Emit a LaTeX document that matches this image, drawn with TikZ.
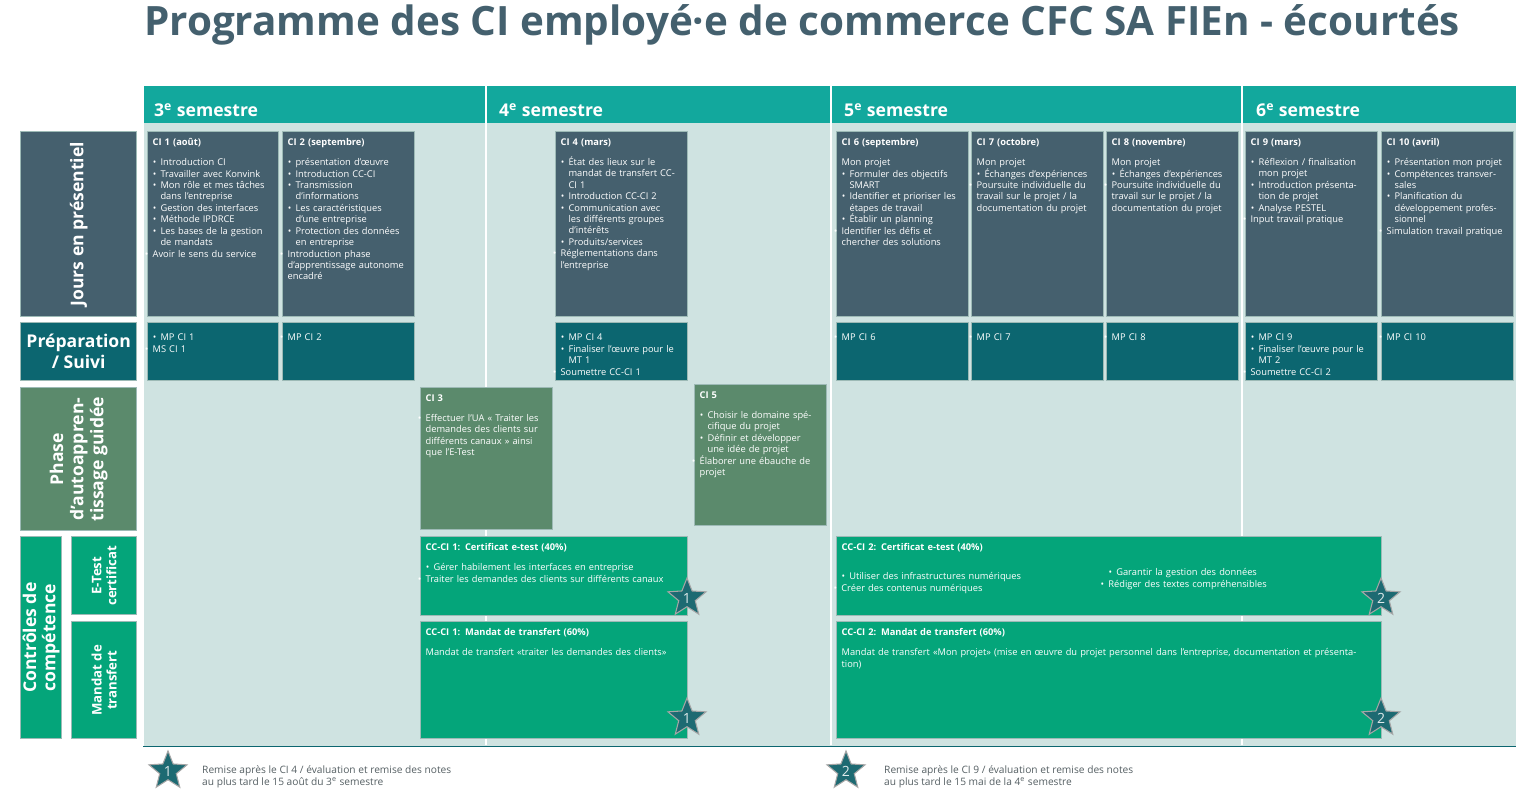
\documentclass[tikz,border=0pt]{standalone}
\usepackage{fontspec}
\setmainfont{Open Sans}
\usepackage{tikz}
\usetikzlibrary{shapes.geometric}

\definecolor{titlecol}{HTML}{44606E}
\definecolor{semcol}{HTML}{12A89D}
\definecolor{panelcol}{HTML}{CFE3E1}
\definecolor{slatecol}{HTML}{45606E}
\definecolor{prepcol}{HTML}{0C6670}
\definecolor{phasecol}{HTML}{5B8A6C}
\definecolor{ccgreen}{HTML}{04A57A}
\definecolor{boxline}{HTML}{9DBAB6}
\definecolor{starcol}{HTML}{1D6A72}
\definecolor{legcol}{HTML}{555F63}

\newcommand\itm{\par\leftskip=0.85em\noindent\llap{\textbullet\hspace{0.45em}}}
\newcommand\pln{\par\leftskip=0pt\noindent}
\newcommand\hd[1]{\textbf{#1}\par\vspace{5pt}}
% box with its text in the top left corner
\newcommand\cibox[7]{%
  \node[box, fill=#6, minimum width=\dimexpr0.02cm*#4\relax, minimum height=\dimexpr0.02cm*#5\relax] (#1) at (#2,#3) {};
  \node[txt, text width=\dimexpr0.02cm*#4-8pt\relax] (#1t) at ([shift={(3pt,-4pt)}]#1.north west) {#7};}

\tikzset{
  box/.style={draw=boxline, line width=0.8pt, anchor=north west, inner sep=0pt},
  txt/.style={anchor=north west, align=left, inner sep=0pt, text=white, font=\fontsize{5.3}{6.5}\selectfont},
  sidebox/.style={box, text=white, font=\bfseries, align=center},
  semtxt/.style={anchor=west, text=white, font=\fontsize{10}{12}\selectfont\bfseries},
  badge/.style={star, star points=5, star point ratio=2.3, fill=starcol, draw=gray!70, line width=0.6pt, minimum size=0.8cm, inner sep=0pt, text=white!85!starcol, font=\fontsize{8}{8}\selectfont}
}

\begin{document}
\begin{tikzpicture}[x=0.02cm, y=-0.02cm]
\useasboundingbox (0,0) rectangle (1530,793);

\node[anchor=west, text=titlecol, font=\fontsize{23}{26}\selectfont\bfseries] (title) at (138,25) {Programme des CI employé·e de commerce CFC SA FIEn - écourtés};

% semester band and panel
\node[box, draw=none, fill=panelcol, minimum width=\dimexpr0.02cm*1372\relax, minimum height=\dimexpr0.02cm*623\relax] (panel) at (143,122) {};
\node[box, draw=none, fill=semcol, minimum width=\dimexpr0.02cm*1372\relax, minimum height=\dimexpr0.02cm*37\relax] (band) at (143,85) {};
\foreach \xs in {486,831,1242}
  \draw[white, line width=1.2pt] (\xs,85) -- (\xs,745);
\node[semtxt] (s3) at (148,110) {3\textsuperscript{e} semestre};
\node[semtxt] (s4) at (493,110) {4\textsuperscript{e} semestre};
\node[semtxt] (s5) at (838,110) {5\textsuperscript{e} semestre};
\node[semtxt] (s6) at (1250,110) {6\textsuperscript{e} semestre};

% row labels
\node[sidebox, fill=slatecol, minimum width=\dimexpr0.02cm*116\relax, minimum height=\dimexpr0.02cm*185\relax] (jours) at (20,131) {};
\node[rotate=90, text=white, font=\fontsize{10}{12}\selectfont\bfseries] at (jours.center) {Jours en présentiel};
\node[sidebox, fill=prepcol, minimum width=\dimexpr0.02cm*116\relax, minimum height=\dimexpr0.02cm*58\relax, font=\fontsize{10}{12}\selectfont\bfseries] (prep) at (20,322) {Préparation\\/ Suivi};
\node[sidebox, fill=phasecol, minimum width=\dimexpr0.02cm*116\relax, minimum height=\dimexpr0.02cm*143\relax] (phase) at (20,387) {};
\node[rotate=90, text=white, align=center, font=\fontsize{10}{11.5}\selectfont\bfseries] at (phase.center) {Phase\\d’autoappren-\\tissage guidée};
\node[sidebox, fill=ccgreen, minimum width=\dimexpr0.02cm*41\relax, minimum height=\dimexpr0.02cm*202\relax] (ctrl) at (20,536) {};
\node[rotate=90, text=white, align=center, font=\fontsize{10}{11}\selectfont\bfseries] at (ctrl.center) {Contrôles de\\compétence};
\node[sidebox, fill=ccgreen, minimum width=\dimexpr0.02cm*65\relax, minimum height=\dimexpr0.02cm*78\relax] (etest) at (71,536) {};
\node[rotate=90, text=white, align=center, font=\fontsize{7.5}{8.5}\selectfont\bfseries] at (etest.center) {E-Test\\certificat};
\node[sidebox, fill=ccgreen, minimum width=\dimexpr0.02cm*65\relax, minimum height=\dimexpr0.02cm*117\relax] (mandat) at (71,621) {};
\node[rotate=90, text=white, align=center, font=\fontsize{7.5}{8.5}\selectfont\bfseries] at (mandat.center) {Mandat de\\transfert};

% jours en presentiel
\cibox{ci1}{147}{131}{131}{185}{slatecol}{\hd{CI 1 (août)}\itm Introduction CI\itm Travailler avec Konvink\itm Mon rôle et mes tâches dans l'entreprise\itm Gestion des interfaces\itm Méthode IPDRCE\itm Les bases de la gestion de mandats\itm Avoir le sens du service}
\cibox{ci2}{282}{131}{132}{185}{slatecol}{\hd{CI 2 (septembre)}\itm présentation d’œuvre\itm Introduction CC-CI\itm Transmission d’informations\itm Les caractéristiques d’une entreprise\itm Protection des données en entreprise\itm Introduction phase d’apprentissage autonome encadré}
\cibox{ci4}{555}{131}{132}{185}{slatecol}{\hd{CI 4 (mars)}\itm État des lieux sur le mandat de transfert CC-CI 1\itm Introduction CC-CI 2\itm Communication avec les différents groupes d’intérêts\itm Produits/services\itm Réglementations dans l’entreprise}
\cibox{ci6}{836}{131}{132}{185}{slatecol}{\hd{CI 6 (septembre)}\pln Mon projet\itm Formuler des objectifs SMART\itm Identifier et prioriser les étapes de travail\itm Établir un planning\itm Identifier les défis et chercher des solutions}
\cibox{ci7}{971}{131}{132}{185}{slatecol}{\hd{CI 7 (octobre)}\pln Mon projet\itm Échanges d’expériences\itm Poursuite individuelle du travail sur le projet / la documentation du projet}
\cibox{ci8}{1106}{131}{132}{185}{slatecol}{\hd{CI 8 (novembre)}\pln Mon projet\itm Échanges d’expériences\itm Poursuite individuelle du travail sur le projet / la documentation du projet}
\cibox{ci9}{1245}{131}{132}{185}{slatecol}{\hd{CI 9 (mars)}\itm Réflexion / finalisation mon projet\itm Introduction présentation de projet\itm Analyse PESTEL\itm Input travail pratique}
\cibox{ci10}{1381}{131}{132}{185}{slatecol}{\hd{CI 10 (avril)}\itm Présentation mon projet\itm Compétences transversales\itm Planification du développement professionnel\itm Simulation travail pratique}

% preparation / suivi
\cibox{mp1}{147}{322}{131}{58}{prepcol}{\itm MP CI 1\itm MS CI 1}
\cibox{mp2}{282}{322}{132}{58}{prepcol}{\itm MP CI 2}
\cibox{mp4}{555}{322}{132}{58}{prepcol}{\itm MP CI 4\itm Finaliser l’œuvre pour le MT 1\itm Soumettre CC-CI 1}
\cibox{mp6}{836}{322}{132}{58}{prepcol}{\itm MP CI 6}
\cibox{mp7}{971}{322}{132}{58}{prepcol}{\itm MP CI 7}
\cibox{mp8}{1106}{322}{132}{58}{prepcol}{\itm MP CI 8}
\cibox{mp9}{1245}{322}{132}{58}{prepcol}{\itm MP CI 9\itm Finaliser l’œuvre pour le MT 2\itm Soumettre CC-CI 2}
\cibox{mp10}{1381}{322}{132}{58}{prepcol}{\itm MP CI 10}

% autoapprentissage
\cibox{ci3}{420}{387}{132}{142}{phasecol}{\hd{CI 3}\itm Effectuer l’UA « Traiter les demandes des clients sur différents canaux » ainsi que l’E-Test}
\cibox{ci5}{694}{384}{132}{141}{phasecol}{\hd{CI 5}\itm Choisir le domaine spécifique du projet\itm Définir et développer une idée de projet\itm Élaborer une ébauche de projet}

% controles de competence
\cibox{et1}{420}{536}{267}{79}{ccgreen}{\hd{CC-CI 1: Certificat e-test (40\%)}\itm Gérer habilement les interfaces en entreprise\itm Traiter les demandes des clients sur différents canaux}
\cibox{mt1}{420}{621}{267}{117}{ccgreen}{\hd{CC-CI 1: Mandat de transfert (60\%)}\pln Mandat de transfert «traiter les demandes des clients»}
\cibox{et2}{836}{536}{545}{79}{ccgreen}{\hd{CC-CI 2: Certificat e-test (40\%)}}
\node[txt, text width=\dimexpr0.02cm*240\relax] (et2a) at (841,568) {\itm Utiliser des infrastructures numériques\itm Créer des contenus numériques};
\node[txt, text width=\dimexpr0.02cm*240\relax] (et2b) at (1108,564) {\itm Garantir la gestion des données\itm Rédiger des textes compréhensibles};
\cibox{mt2}{836}{621}{545}{117}{ccgreen}{\hd{CC-CI 2: Mandat de transfert (60\%)}\pln Mandat de transfert «Mon projet» (mise en œuvre du projet personnel dans l’entreprise, documentation et présentation)}

\node[badge] (b1a) at (687,598) {1};
\node[badge] (b1b) at (687,718) {1};
\node[badge] (b2a) at (1381,598) {2};
\node[badge] (b2b) at (1381,718) {2};

% legend
\draw[prepcol, line width=0.8pt] (panel.south west) -- (panel.south east);
\node[badge] (l1) at (168,771) {1};
\node[badge] (l2) at (846,771) {2};
\node[anchor=west, align=left, text=legcol, font=\fontsize{5.8}{7}\selectfont] (l1t) at (196,777) {Remise après le CI 4 / évaluation et remise des notes\\au plus tard le 15 août du 3\textsuperscript{e} semestre};
\node[anchor=west, align=left, text=legcol, font=\fontsize{5.8}{7}\selectfont] (l2t) at (878,777) {Remise après le CI 9 / évaluation et remise des notes\\au plus tard le 15 mai de la 4\textsuperscript{e} semestre};
\end{tikzpicture}
\end{document}
